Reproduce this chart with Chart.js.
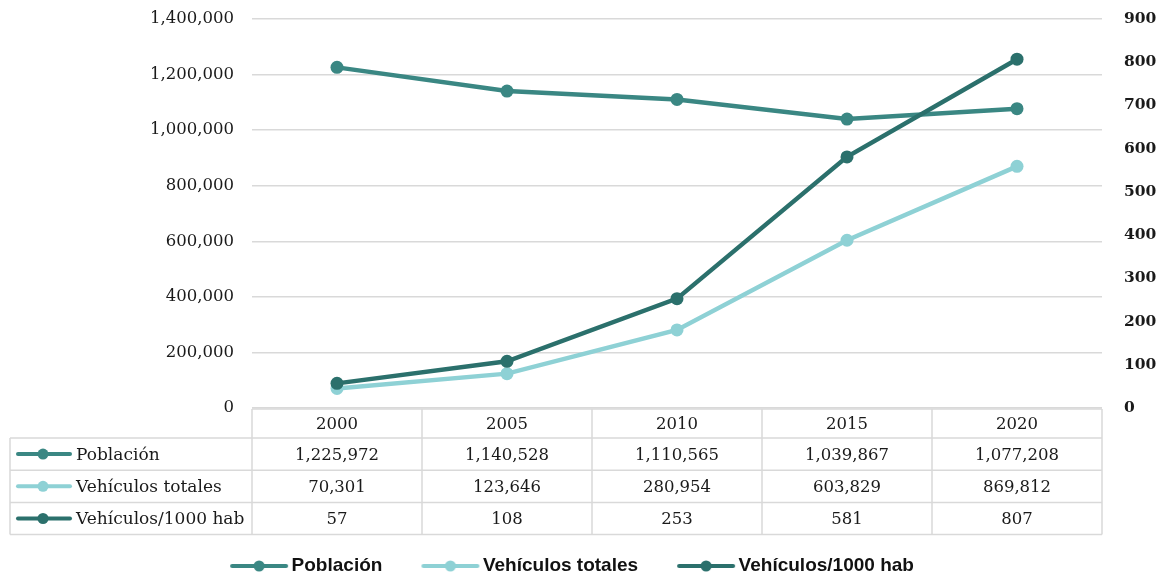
<!DOCTYPE html>
<html><head><meta charset="utf-8">
<script src="https://cdn.jsdelivr.net/npm/chart.js@4"></script>
<style>html,body{margin:0;padding:0;background:#fff;}#wrap{width:1158px;height:580px;position:relative}</style>
</head><body><div id="wrap"><canvas id="c" width="1158" height="580"></canvas></div>
<script>
const years = ['2000', '2005', '2010', '2015', '2020'];
const poblacion = [1225972, 1140528, 1110565, 1039867, 1077208];
const vehiculosTotales = [70301, 123646, 280954, 603829, 869812];
const vehiculosPorMil = [57, 108, 253, 581, 807];
const seriesLabels = ['Población', 'Vehículos totales', 'Vehículos/1000 hab'];
const leftAxisMax = 1400000, leftAxisStep = 200000;
const rightAxisMax = 900, rightAxisStep = 100;

const colors = ['#3a8783', '#8ed1d5', '#2b706c'];
const serif = 'DejaVu Serif';
const fmt = v => Number(v).toLocaleString('en-US');

function legendKey(color) {
  const c = document.createElement('canvas');
  c.width = 66; c.height = 14;
  const g = c.getContext('2d');
  g.strokeStyle = color; g.lineWidth = 4; g.lineCap = 'round';
  g.beginPath(); g.moveTo(9, 7); g.lineTo(63, 7); g.stroke();
  g.fillStyle = color; g.beginPath(); g.arc(36, 7, 5.5, 0, Math.PI * 2); g.fill();
  return c;
}
const keyImgs = colors.map(legendKey);

const tablePlugin = {
  id: 'dataTable',
  afterLayout(chart) {
    if (chart.legend) chart.legend.right -= 14;
  },
  afterDraw(chart) {
    const ctx = chart.ctx, xs = chart.scales.x, area = chart.chartArea;
    const n = years.length;
    const step = xs.getPixelForValue(1) - xs.getPixelForValue(0);
    const colEdges = [];
    for (let i = 0; i < n; i++) colEdges.push(xs.getPixelForValue(i) - step / 2);
    colEdges.push(xs.getPixelForValue(n - 1) + step / 2);
    const top = area.bottom + 1;
    const headerH = 29, rowH = 32.2, tableLeft = 10;
    const rowsData = [poblacion, vehiculosTotales, vehiculosPorMil];
    const bottom = top + headerH + rowH * rowsData.length;
    const right = colEdges[n];
    ctx.save();
    ctx.strokeStyle = '#d9d9d9'; ctx.lineWidth = 1.5;
    const ln = (x1, y1, x2, y2) => { ctx.beginPath(); ctx.moveTo(x1, y1); ctx.lineTo(x2, y2); ctx.stroke(); };
    ln(colEdges[0], top, right, top);
    for (let r = 0; r <= rowsData.length; r++) {
      const y = top + headerH + rowH * r;
      ln(tableLeft, y, right, y);
    }
    ln(tableLeft, top + headerH, tableLeft, bottom);
    colEdges.forEach(x => ln(x, top, x, bottom));
    ctx.textBaseline = 'middle';
    ctx.fillStyle = '#1a1a1a';
    rowsData.forEach((arr, r) => {
      const cy = top + headerH + rowH * r + rowH / 2;
      ctx.font = '16.5px "' + serif + '"';
      ctx.textAlign = 'center';
      arr.forEach((v, i) => ctx.fillText(fmt(v), xs.getPixelForValue(i), cy + 1.5));
      const col = chart.data.datasets[r].borderColor;
      ctx.strokeStyle = col; ctx.lineWidth = 4; ctx.lineCap = 'round';
      ln(18, cy, 70, cy);
      ctx.fillStyle = col; ctx.beginPath(); ctx.arc(43, cy, 5.5, 0, Math.PI * 2); ctx.fill();
      ctx.fillStyle = '#1a1a1a'; ctx.textAlign = 'left';
      ctx.font = '17px "' + serif + '"';
      ctx.fillText(chart.data.datasets[r].label, 76, cy + 1.5);
      ctx.strokeStyle = '#d9d9d9'; ctx.lineWidth = 1.5; ctx.lineCap = 'butt';
    });
    ctx.restore();
  }
};

new Chart(document.getElementById('c'), {
  type: 'line',
  data: {
    labels: years,
    datasets: [
      { label: seriesLabels[0], data: poblacion, yAxisID: 'y', order: 3 },
      { label: seriesLabels[1], data: vehiculosTotales, yAxisID: 'y', order: 2 },
      { label: seriesLabels[2], data: vehiculosPorMil, yAxisID: 'y1', order: 1 }
    ].map((d, i) => Object.assign(d, {
      borderColor: colors[i], backgroundColor: colors[i], pointBackgroundColor: colors[i],
      borderWidth: 4.5, pointRadius: 6.5, pointBorderWidth: 0, pointHoverRadius: 6.5, tension: 0, fill: false
    }))
  },
  options: {
    responsive: false,
    animation: false,
    layout: { padding: { top: 19, left: 0, right: 0, bottom: -5.5 } },
    plugins: {
      tooltip: { enabled: false },
      legend: {
        position: 'bottom',
        labels: {
          usePointStyle: true, pointStyleWidth: 52, padding: 39,
          font: { family: 'Liberation Sans', size: 19, weight: 'bold' }, color: '#111',
          sort: (a, b) => a.datasetIndex - b.datasetIndex,
          generateLabels(chart) {
            const items = Chart.defaults.plugins.legend.labels.generateLabels(chart);
            items.forEach(it => { it.pointStyle = keyImgs[it.datasetIndex]; });
            return items;
          }
        }
      }
    },
    scales: {
      x: {
        type: 'category', offset: true,
        grid: { display: false, drawTicks: false }, border: { display: false },
        ticks: { padding: 6.5, color: '#1a1a1a', font: { family: serif, size: 16.5 } },
        afterFit(s) { s.height = 109.5; }
      },
      y: {
        position: 'left', min: 0, max: leftAxisMax,
        ticks: { stepSize: leftAxisStep, padding: 0, color: '#1a1a1a', font: { family: serif, size: 16.5 }, callback: v => fmt(v) },
        grid: { color: '#d9d9d9', lineWidth: 1.5, drawTicks: true, tickLength: 18, tickColor: 'rgba(0,0,0,0)' }, border: { display: false },
        afterFit(s) { s.width = 252; }
      },
      y1: {
        position: 'right', min: 0, max: rightAxisMax,
        ticks: { stepSize: rightAxisStep, padding: 0, color: '#1a1a1a', font: { family: serif, size: 15.5, weight: 'bold' } },
        grid: { drawOnChartArea: false, drawTicks: true, tickLength: 22, tickColor: 'rgba(0,0,0,0)' }, border: { display: false },
        afterFit(s) { s.width = 56; }
      }
    }
  },
  plugins: [tablePlugin]
});
</script></body></html>
